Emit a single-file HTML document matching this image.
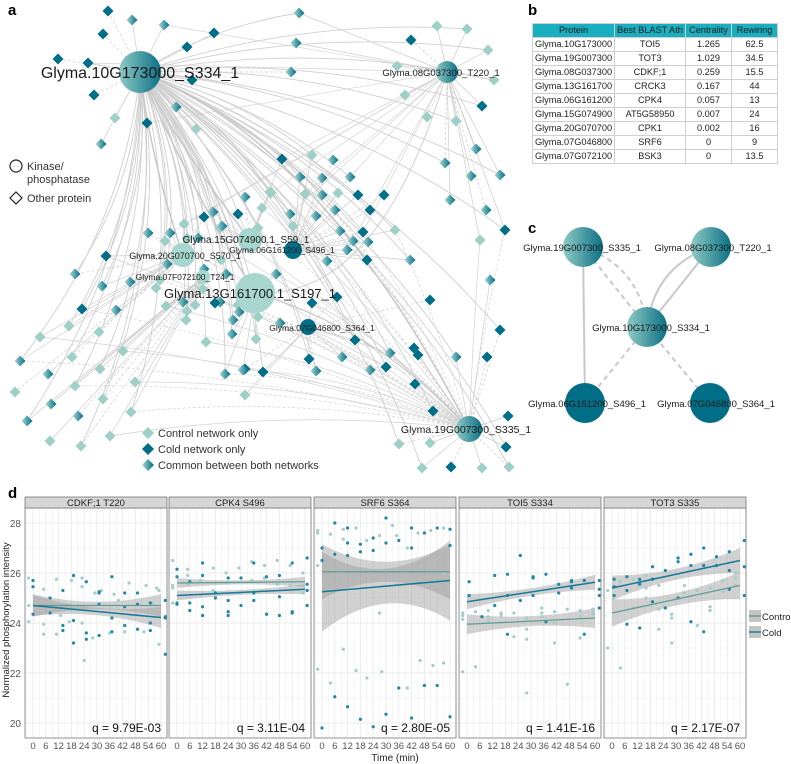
<!DOCTYPE html>
<html><head><meta charset="utf-8">
<style>
html,body{margin:0;padding:0;background:#fff;}
body{width:791px;height:764px;position:relative;overflow:hidden;font-family:"Liberation Sans",sans-serif;}
#tbl{position:absolute;left:532px;top:23px;border-collapse:collapse;font-size:9.2px;color:#222;table-layout:fixed;width:245px;}
#tbl td,#tbl th{border:1px solid #d0d0d0;height:13px;padding:0;text-align:center;font-weight:normal;line-height:13px;white-space:nowrap;overflow:hidden;}
#tbl th{background:#19afc0;color:#1a1a1a;}
</style></head><body>
<svg id="svg" width="791" height="764" viewBox="0 0 791 764" style="position:absolute;left:0;top:0" font-family="Liberation Sans, sans-serif">
<defs>
<linearGradient id="gd" x1="0" x2="1" y1="0" y2="0"><stop offset="0" stop-color="#a9d7d1"/><stop offset="1" stop-color="#006e86"/></linearGradient>
<linearGradient id="gh" x1="0" x2="1" y1="0" y2="0"><stop offset="0" stop-color="#8fcac4"/><stop offset="1" stop-color="#0b6f85"/></linearGradient>
</defs>
<g id="net"></g>
<g id="netc"></g>
<g id="pd"></g>
<text x="8" y="15" font-size="15" font-weight="bold">a</text>
<text x="528" y="15" font-size="15" font-weight="bold">b</text>
<text x="528" y="233" font-size="15" font-weight="bold">c</text>
<text x="8" y="498" font-size="15" font-weight="bold">d</text>
</svg>
<table id="tbl">
<colgroup><col style="width:82px"><col style="width:71px"><col style="width:46px"><col style="width:46px"></colgroup>
<tr><th>Protein</th><th>Best BLAST Ath</th><th>Centrality</th><th>Rewiring</th></tr>
<tr><td>Glyma.10G173000</td><td>TOI5</td><td>1.265</td><td>62.5</td></tr>
<tr><td>Glyma.19G007300</td><td>TOT3</td><td>1.029</td><td>34.5</td></tr>
<tr><td>Glyma.08G037300</td><td>CDKF;1</td><td>0.259</td><td>15.5</td></tr>
<tr><td>Glyma.13G161700</td><td>CRCK3</td><td>0.167</td><td>44</td></tr>
<tr><td>Glyma.06G161200</td><td>CPK4</td><td>0.057</td><td>13</td></tr>
<tr><td>Glyma.15G074900</td><td>AT5G58950</td><td>0.007</td><td>24</td></tr>
<tr><td>Glyma.20G070700</td><td>CPK1</td><td>0.002</td><td>16</td></tr>
<tr><td>Glyma.07G046800</td><td>SRF6</td><td>0</td><td>9</td></tr>
<tr><td>Glyma.07G072100</td><td>BSK3</td><td>0</td><td>13.5</td></tr>
</table>
<script>
// ---------- panel d data ----------
const panelTitles=["CDKF;1 T220","CPK4 S496","SRF6 S364","TOI5 S334","TOT3 S335"];
const qValues=["q = 9.79E-03","q = 3.11E-04","q = 2.80E-05","q = 1.41E-16","q = 2.17E-07"];
const xTicks=[0,6,12,18,24,30,36,42,48,54,60];
const yTicks=[20,22,24,26,28];
const controlFit=[[24.7,24.7],[25.6,25.65],[26.05,26.05],[23.95,24.2],[24.4,25.5]];
const coldFit=[[24.7,24.22],[25.1,25.35],[25.25,25.7],[24.85,25.63],[25.4,26.5]];
// ribbon half widths: [ends, middle]
const controlBand=[[0.45,0.15],[0.2,0.08],[1.1,0.4],[0.4,0.2],[0.55,0.25]];
const coldBand=[[0.42,0.15],[0.2,0.1],[1.6,0.7],[0.3,0.15],[0.5,0.22]];
const controlPts=[
[[-2,25.8],[-2,24.7],[-2,24.05],[5,25.35],[5,23.95],[5,23.55],[11,25.75],[11,23.55],[13,24.3],[18,25.7],[17,24.05],[20,24.6],[23,25.8],[23,25.45],[23,24.0],[24,22.5],[28,23.4],[29,25.2],[32,25.3],[36,23.6],[38,25.15],[40,24.9],[43,23.65],[45,25.6],[52,23.65],[53,25.5],[56,24.8],[58,25.4],[59,23.15],[59,25.3]],
[[-2,26.5],[-2,25.5],[-2,25.4],[-2,24.8],[5,26.15],[5,25.9],[5,25.55],[11,25.7],[11,25.1],[17,26.2],[17,25.3],[23,26.0],[23,25.6],[29,26.2],[29,25.2],[35,26.45],[35,25.7],[41,26.3],[41,25.8],[47,26.5],[47,25.55],[53,25.5],[53,26.3],[59,26.0],[59,25.2]],
[[-2,27.7],[-2,27.6],[-2,26.3],[-2,22.15],[4,27.55],[4,21.6],[10,27.75],[10,27.35],[10,22.95],[16,27.8],[16,22.1],[21,27.3],[21,21.8],[27,27.5],[27,24.4],[28,22.05],[33,27.9],[35,27.5],[40,27.0],[40,21.4],[45,27.6],[46,22.5],[51,27.7],[52,22.3],[57,27.8],[57,26.0],[57,22.4]],
[[-2,24.4],[-2,24.3],[-2,24.15],[-2,22.05],[4,22.25],[4,24.45],[10,24.5],[10,24.25],[10,24.1],[16,24.4],[16,24.3],[22,24.4],[22,23.45],[28,24.2],[28,23.75],[28,23.35],[28,21.2],[35,24.6],[35,24.4],[35,24.25],[41,24.45],[41,24.0],[41,23.2],[47,24.55],[47,21.55],[53,24.5],[53,24.25],[53,23.4],[59,24.55],[59,24.45],[59,24.35]],
[[-2,25.3],[-2,23.0],[4,25.65],[4,22.2],[10,24.6],[10,25.75],[16,25.9],[16,25.4],[16,25.0],[22,24.55],[22,23.75],[22,25.5],[28,24.35],[28,24.2],[28,23.2],[34,25.5],[34,25.2],[40,25.3],[40,23.9],[46,24.5],[46,24.65],[46,25.4],[52,25.25],[52,25.7],[58,25.5],[58,25.8],[58,26.0]]];
const coldPts=[
[[0,25.7],[0,25.45],[0,24.35],[8,25.0],[8,24.4],[14,25.3],[14,23.9],[14,23.7],[19,25.9],[19,24.1],[19,23.2],[25,25.65],[25,23.6],[25,23.35],[31,25.25],[31,25.2],[31,24.75],[31,23.5],[37,25.85],[37,24.2],[37,23.65],[43,25.2],[43,24.65],[43,23.9],[49,25.2],[49,24.75],[49,23.75],[55,24.8],[55,24.0],[55,23.7],[62,24.9],[62,24.25],[62,24.2],[62,22.75]],
[[0,26.15],[0,25.85],[0,24.8],[0,24.75],[6,25.65],[6,24.8],[6,24.5],[12,26.4],[12,25.9],[12,24.65],[12,24.3],[18,25.2],[18,25.0],[24,25.8],[24,24.9],[24,24.45],[24,24.3],[30,25.8],[30,24.7],[36,26.4],[36,25.2],[36,24.9],[42,25.85],[42,24.35],[48,25.9],[48,25.05],[48,24.3],[54,26.4],[54,24.45],[54,24.4],[61,26.6],[61,25.55],[61,25.3],[61,24.7]],
[[0,27.0],[0,26.5],[0,19.8],[6,28.0],[6,26.75],[6,21.05],[12,27.8],[12,27.2],[12,26.7],[12,20.65],[18,27.15],[18,26.85],[18,20.15],[24,27.4],[24,26.9],[24,19.85],[30,28.2],[30,27.2],[30,20.35],[36,21.4],[36,27.3],[42,27.8],[42,27.0],[42,20.2],[48,27.6],[48,21.5],[54,27.8],[54,21.5],[60,27.75],[60,27.1],[60,20.25]],
[[1,25.65],[1,25.1],[7,24.25],[13,25.9],[13,24.7],[19,25.95],[19,25.1],[19,23.55],[25,26.7],[25,24.9],[31,25.85],[31,25.8],[31,25.1],[37,25.95],[37,24.05],[43,25.55],[43,25.2],[49,25.7],[49,25.65],[49,25.4],[55,25.7],[55,23.55],[62,25.7],[62,25.35],[62,25.1],[62,24.6]],
[[1,25.75],[1,25.45],[1,25.1],[7,25.85],[7,25.3],[7,23.95],[13,25.75],[13,25.55],[13,23.8],[19,26.25],[19,24.85],[19,25.75],[25,26.1],[25,24.6],[31,26.6],[31,26.45],[31,25.0],[37,26.75],[37,26.3],[37,24.05],[43,27.0],[43,26.3],[43,23.65],[49,26.65],[49,26.3],[55,26.85],[55,26.1],[55,25.35],[62,27.3],[62,26.25],[62,25.1]]];

// ---------- network data (diagram layout) ----------
const hubs=[
 {id:"10G",x:140,y:72,r:21,fill:"url(#gh)",label:"Glyma.10G173000_S334_1",fs:16,lx:140,ly:78},
 {id:"08G",x:447,y:72,r:11,fill:"url(#gh)",label:"Glyma.08G037300_T220_1",fs:9.5,lx:441,ly:76},
 {id:"13G",x:255,y:293,r:20,fill:"#a6d6ce",label:"Glyma.13G161700.1_S197_1",fs:13,lx:250,ly:298},
 {id:"19G",x:469,y:429,r:13,fill:"url(#gh)",label:"Glyma.19G007300_S335_1",fs:10.5,lx:466,ly:433},
 {id:"15G",x:250,y:240,r:12,fill:"#a6d6ce",label:"Glyma.15G074900.1_S59_1",fs:10,lx:246,ly:243},
 {id:"20G",x:183,y:255,r:12,fill:"#a6d6ce",label:"Glyma.20G070700_S570_1",fs:9,lx:185,ly:259},
 {id:"06G",x:293,y:250,r:9,fill:"#006e86",label:"Glyma.06G161200_S496_1",fs:8.5,lx:282,ly:253},
 {id:"07F",x:203,y:277,r:7,fill:"#a6d6ce",label:"Glyma.07F072100_T24_1",fs:8.5,lx:185,ly:280},
 {id:"07G",x:308,y:327,r:8,fill:"#006e86",label:"Glyma.07G046800_S364_1",fs:8.5,lx:322,ly:331}];
const diamonds=[
[108,11,"d"],[132,20,"g"],[164,25,"g"],[103,34,"d"],[214,33,"d"],[187,47,"d"],[58,59,"d"],[88,63,"d"],[192,80,"d"],[94,95,"d"],[176,107,"g"],[115,118,"c"],[147,123,"d"],[196,129,"c"],[101,144,"g"],[245,197,"g"],[238,214,"d"],[170,233,"g"],[204,217,"d"],[220,228,"c"],[187,238,"c"],[148,233,"g"],
[299,13,"g"],[296,43,"g"],[291,72,"g"],[437,26,"c"],[467,29,"c"],[411,40,"d"],[488,50,"c"],[397,66,"c"],[494,80,"c"],[405,95,"c"],[482,106,"d"],[427,117,"c"],[456,121,"c"],[476,149,"g"],[445,163,"g"],[282,159,"d"],[312,155,"c"],[333,160,"g"],[300,177,"g"],[322,178,"g"],[350,177,"g"],[471,176,"g"],[500,175,"g"],[384,195,"d"],[270,192,"c"],[305,194,"c"],
[75,274,"g"],[106,256,"d"],[102,286,"g"],[130,282,"g"],[82,309,"d"],[116,310,"g"],[156,288,"c"],[40,337,"c"],[69,326,"c"],[99,332,"c"],[20,361,"g"],[48,374,"g"],[72,357,"c"],[123,351,"c"],[100,369,"c"],[15,392,"c"],[75,386,"c"],[51,404,"g"],[103,399,"c"],[135,382,"c"],[27,421,"g"],[78,416,"g"],[131,412,"c"],[50,441,"c"],[81,446,"c"],[110,436,"c"],[167,264,"g"],[204,269,"g"],[203,289,"c"],[187,311,"c"],[183,302,"g"],[206,342,"c"],[232,334,"g"],[245,369,"d"],[225,374,"g"],[245,395,"c"],[186,320,"c"],[220,302,"g"],[233,320,"g"],
[271,193,"c"],[322,195,"g"],[338,193,"c"],[213,212,"g"],[262,208,"c"],[290,214,"g"],[316,216,"g"],[335,210,"g"],[358,195,"d"],[370,210,"d"],[184,224,"c"],[222,226,"g"],[258,228,"c"],[293,226,"c"],[340,231,"g"],[363,232,"d"],[165,241,"c"],[198,238,"g"],[353,241,"g"],[368,242,"g"],[347,250,"g"],[221,260,"c"],[276,274,"g"],[367,260,"d"],[327,261,"g"],[160,280,"c"],[226,274,"g"],[337,297,"d"],[166,306,"c"],[195,305,"c"],[215,303,"d"],[238,305,"c"],[239,312,"g"],[258,317,"c"],[312,303,"d"],[256,339,"c"],[280,323,"g"],[355,340,"d"],[342,357,"g"],[309,359,"d"],[243,370,"g"],[263,372,"d"],[370,370,"g"],
[386,367,"d"],[414,348,"d"],[316,371,"g"],[415,384,"d"],[456,357,"g"],[487,357,"d"],[433,411,"d"],[508,416,"d"],[399,444,"c"],[430,443,"c"],[506,447,"d"],[451,467,"d"],[422,468,"c"],[482,468,"c"],[509,467,"c"],[418,355,"d"],[390,353,"g"],
[486,210,"g"],[505,230,"d"],[490,280,"g"],[500,330,"d"],[480,240,"c"],[410,260,"g"],[430,300,"d"],[395,230,"c"],[450,200,"g"]];
const dColor={c:"#9fd0c7",d:"#006e86",g:"url(#gd)"};

const NS="http://www.w3.org/2000/svg";
function mk(tag,attrs,parent){const e=document.createElementNS(NS,tag);for(const k in attrs)e.setAttribute(k,attrs[k]);parent.appendChild(e);return e;}

// ---- draw network a ----
const net=document.getElementById('net');
const edges=mk('g',{},net);


const H1=hubs[0],H4=hubs[3],H2=hubs[1];
diamonds.forEach((d,i)=>{
  let best=hubs[0],bd=1e9;
  hubs.forEach(h=>{const q=Math.hypot(h.x-d[0],h.y-d[1]);if(q<bd){bd=q;best=h;}});
  const ln=mk('line',{x1:best.x,y1:best.y,x2:d[0],y2:d[1],stroke:"#cdcdcd","stroke-width":0.7},edges);
  if(i%3==0)ln.setAttribute('stroke-dasharray','3,2');
  if(i%2==0 && best!==H1){
    const mx=(H1.x+d[0])/2+(d[1]-H1.y)*0.15, my=(H1.y+d[1])/2-(d[0]-H1.x)*0.1;
    mk('path',{d:`M${H1.x},${H1.y} Q${mx},${my} ${d[0]},${d[1]}`,fill:"none",stroke:"#cfcfcf","stroke-width":0.9},edges);
  }
  if(i%3==1 && d[1]>180 && best!==H4){
    const mx=(H4.x+d[0])/2, my=(H4.y+d[1])/2-25;
    mk('path',{d:`M${H4.x},${H4.y} Q${mx},${my} ${d[0]},${d[1]}`,fill:"none",stroke:"#d2d2d2","stroke-width":0.7,"stroke-dasharray":i%2?"none":"3,2"},edges);
  }
  if(i%5==2 && d[1]<260 && best!==H2){
    mk('line',{x1:H2.x,y1:H2.y,x2:d[0],y2:d[1],stroke:"#d4d4d4","stroke-width":0.7},edges);
  }
});
[hubs[2],hubs[4],hubs[5]].forEach(h=>{
  mk('path',{d:`M${H1.x},${H1.y} Q${(H1.x+h.x)/2-10},${(H1.y+h.y)/2} ${h.x},${h.y}`,fill:"none",stroke:"#c8c8c8","stroke-width":1.5},edges);
});
mk('path',{d:`M${H1.x},${H1.y} Q320,140 ${H4.x},${H4.y}`,fill:"none",stroke:"#c8c8c8","stroke-width":1.5},edges);
mk('path',{d:`M${hubs[2].x},${hubs[2].y} Q380,330 ${H4.x},${H4.y}`,fill:"none",stroke:"#c8c8c8","stroke-width":1.2},edges);
mk('path',{d:`M${H2.x},${H2.y} Q380,300 ${hubs[2].x},${hubs[2].y}`,fill:"none",stroke:"#cccccc","stroke-width":0.9},edges);
const dg=mk('g',{},net);
diamonds.forEach(d=>{
  const s=5.5;
  const p=mk('polygon',{points:`${d[0]},${d[1]-s} ${d[0]+s},${d[1]} ${d[0]},${d[1]+s} ${d[0]-s},${d[1]}`,fill:dColor[d[2]]},dg);
  
  
});
hubs.forEach(h=>{
  const c=mk('circle',{cx:h.x,cy:h.y,r:h.r,fill:h.fill},net);
  
  
});
hubs.forEach(h=>{
  const t=mk('text',{x:h.lx,y:h.ly,"font-size":h.fs,"text-anchor":"middle",fill:"#1a1a1a"},net);
  t.textContent=h.label;
  
  
});
// shape legend
const sl=mk('g',{"font-size":"11","fill":"#333"},net);


mk('circle',{cx:16,cy:166,r:6,fill:"none",stroke:"#222","stroke-width":1.2},sl);
mk('text',{x:27,y:170},sl).textContent="Kinase/";
mk('text',{x:27,y:183},sl).textContent="phosphatase";
mk('polygon',{points:"16,192 22,198 16,204 10,198",fill:"none",stroke:"#222","stroke-width":1.2},sl);
mk('text',{x:27,y:202},sl).textContent="Other protein";
// color legend
const cl=mk('g',{"font-size":"11","fill":"#333"},net);


[["c","Control network only",433],["d","Cold network only",449],["g","Common between both networks",465]].forEach(e=>{
  mk('polygon',{points:`148,${e[2]-6} 154,${e[2]} 148,${e[2]+6} 142,${e[2]}`,fill:dColor[e[0]]},cl);
  mk('text',{x:158,y:e[2]+4},cl).textContent=e[1];
});

// ---- network c ----
const nc=document.getElementById('netc');
const cNodes=[{x:583,y:247,f:"url(#gh)",l:"Glyma.19G007300_S335_1",lx:582},{x:711,y:247,f:"url(#gh)",l:"Glyma.08G037300_T220_1",lx:713},{x:647,y:327,f:"url(#gh)",l:"Glyma.10G173000_S334_1",lx:651},{x:585,y:403,f:"#006e86",l:"Glyma.06G161200_S496_1",lx:587},{x:710,y:403,f:"#006e86",l:"Glyma.07G046800_S364_1",lx:716}];
const ce=[[0,3,"none",2],[2,0,"5,4",2],[0,2,"5,4",2,1],[2,1,"none",2],[2,1,"none",2,1],[2,3,"5,4",2],[4,2,"5,4",2]];
ce.forEach(e=>{
  const a=cNodes[e[0]],b=cNodes[e[1]];
  let d;
  if(e[4]){const mx=(a.x+b.x)/2+(e[0]==0?25:-25),my=(a.y+b.y)/2-20;d=`M${a.x},${a.y} Q${mx},${my} ${b.x},${b.y}`;}
  else d=`M${a.x},${a.y} L${b.x},${b.y}`;
  const p=mk('path',{d:d,fill:"none",stroke:"#c8c8c8","stroke-width":e[3],"stroke-dasharray":e[2]},nc);
  
  
});
cNodes.forEach(n=>{
  const c=mk('circle',{cx:n.x,cy:n.y,r:20,fill:n.f},nc);
  
  
  const t=mk('text',{x:n.lx,y:n.y+4,"font-size":"9.5","text-anchor":"middle",fill:"#1a1a1a"},nc);
  t.textContent=n.l;
});

// ---- panel d ----
const pd=document.getElementById('pd');
const panelLeft=[25,169,314,459,604], panelW=142, pTop=508, pBot=738;
function xs(p,t){return panelLeft[p]+8+t*128/60;}
function ys(v){return 523+(28-v)*25;}
for(let p=0;p<5;p++){
  const g=mk('g',{},pd);
  
  
  const L=panelLeft[p];
  mk('rect',{x:L,y:pTop,width:panelW,height:pBot-pTop,fill:"#fff"},g);
  for(let v=19;v<=28.6;v+=1) mk('line',{x1:L,x2:L+panelW,y1:ys(v),y2:ys(v),stroke:"#ebebeb","stroke-width":v%2==0?1:0.6},g);
  for(let t=-3;t<=63;t+=3) mk('line',{x1:xs(p,t),x2:xs(p,t),y1:pTop,y2:pBot,stroke:"#ececec","stroke-width":t%6==0?1:0.5},g);
  [[controlFit,controlBand],[coldFit,coldBand]].forEach(([fit,band])=>{
    let up=[],dn=[];
    for(let t=0;t<=60;t+=3){const v=fit[p][0]+(fit[p][1]-fit[p][0])*t/60;const u=(t-30)/30;const hw=band[p][1]+(band[p][0]-band[p][1])*u*u;up.push(xs(p,t)+","+ys(v+hw));dn.unshift(xs(p,t)+","+ys(v-hw));}
    const r=mk('polygon',{points:up.concat(dn).join(" "),fill:"#9a9a9a","fill-opacity":0.45},g);
    
    
  });
  controlPts[p].forEach(pt=>{const c=mk('circle',{cx:xs(p,pt[0]),cy:ys(pt[1]),r:1.6,fill:"#a4cdc7"},g);});
  coldPts[p].forEach(pt=>{const c=mk('circle',{cx:xs(p,pt[0]),cy:ys(pt[1]),r:1.6,fill:"#2187a7"},g);});
  const l1=mk('line',{x1:xs(p,0),x2:xs(p,60),y1:ys(controlFit[p][0]),y2:ys(controlFit[p][1]),stroke:"#5f9e97","stroke-width":1.3},g);
  
  const l2=mk('line',{x1:xs(p,0),x2:xs(p,60),y1:ys(coldFit[p][0]),y2:ys(coldFit[p][1]),stroke:"#137a98","stroke-width":1.5},g);
  
  mk('rect',{x:L,y:pTop,width:panelW,height:pBot-pTop,fill:"none",stroke:"#777","stroke-width":0.8},g);
  mk('rect',{x:L,y:497,width:panelW,height:11,fill:"#d6d6d6",stroke:"#777","stroke-width":0.8},g);
  const st=mk('text',{x:L+panelW/2,y:506,"font-size":"9.5","text-anchor":"middle",fill:"#222"},g);
  st.textContent=panelTitles[p];
  
  const q=mk('text',{x:L+panelW-6,y:732,"font-size":"12","text-anchor":"end",fill:"#111"},g);
  q.textContent=qValues[p];
  
  xTicks.forEach(t=>{const tx=mk('text',{x:xs(p,t),y:749,"font-size":"9.5","text-anchor":"middle",fill:"#555"},g);tx.textContent=t;});
}
yTicks.forEach(v=>{const t=mk('text',{x:21,y:ys(v)+4,"font-size":"10","text-anchor":"end",fill:"#555"},pd);t.textContent=v;});
const yt=mk('text',{x:0,y:0,"font-size":"9.5","text-anchor":"middle",fill:"#222",transform:"translate(9,620) rotate(-90)"},pd);
yt.textContent="Normalized phosphorylation intensity";

const xt=mk('text',{x:395,y:761,"font-size":"10","text-anchor":"middle",fill:"#222"},pd);
xt.textContent="Time (min)";

const lg=mk('g',{},pd);

[["Control","#5f9e97",616],["Cold","#137a98",632]].forEach(e=>{
  mk('rect',{x:749,y:e[2]-6,width:12,height:12,fill:"#c4c4c4"},lg);
  mk('line',{x1:749,x2:761,y1:e[2],y2:e[2],stroke:e[1],"stroke-width":1.4},lg);
  const t=mk('text',{x:762,y:e[2]+4,"font-size":"9.5",fill:"#222"},lg);t.textContent=e[0];
});
</script>
</body></html>
